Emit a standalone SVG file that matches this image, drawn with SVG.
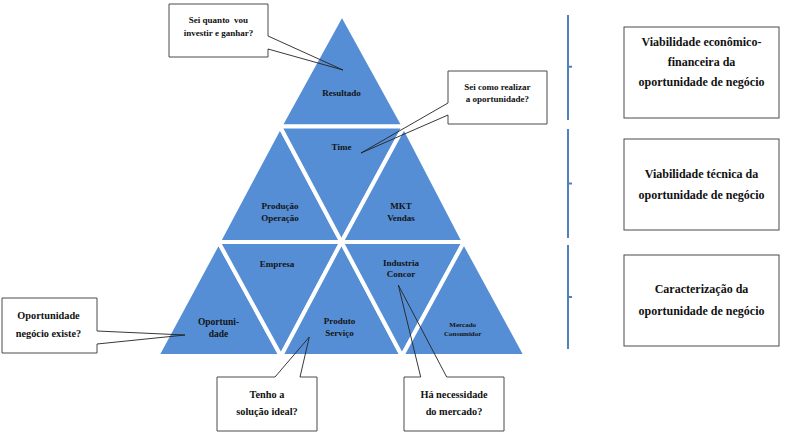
<svg xmlns="http://www.w3.org/2000/svg" width="785" height="434" viewBox="0 0 785 434">
<style>
.tri{fill:#558ed5;stroke:#fff;stroke-width:4;stroke-linejoin:miter}
.tl{font-family:'Liberation Serif','DejaVu Serif',serif;font-weight:bold;fill:#141414;text-anchor:middle}
.bx{fill:#fff;stroke:none}
.ol{fill:none;stroke:#4a4a4a;stroke-width:1}
.cn{fill:none;stroke:#222;stroke-width:0.9}
.ct{font-family:'Liberation Serif','DejaVu Serif',serif;font-weight:bold;fill:#111;text-anchor:middle}
.br{fill:none;stroke:#4f81bd;stroke-width:2}
.rb{fill:#fff;stroke:#4a4a4a;stroke-width:1}
</style>
<rect width="785" height="434" fill="#fff"/>
<g id="pyramid">
<g id="resultado"><polygon class="tri" points="342,14 280,126.5 404,126.5"/><text class="tl" x="341.5" y="96" font-size="9">Resultado</text></g>
<g id="producao"><polygon class="tri" points="280,126.5 218.5,242 341.5,242"/><text class="tl" x="280" y="209" font-size="9">Produção</text><text class="tl" x="280" y="220.5" font-size="9">Operação</text></g>
<g id="time"><polygon class="tri" points="280,126.5 404,126.5 341.5,242"/><text class="tl" x="341.5" y="150" font-size="9">Time</text></g>
<g id="mkt"><polygon class="tri" points="404,126.5 341.5,242 464,242"/><text class="tl" x="401" y="209" font-size="9">MKT</text><text class="tl" x="401" y="220.5" font-size="9">Vendas</text></g>
<g id="oportunidade"><polygon class="tri" points="218.5,242 157,356 281,356"/><text class="tl" x="218.5" y="324.5" font-size="9.5">Oportuni-</text><text class="tl" x="218.5" y="336.5" font-size="9.5">dade</text></g>
<g id="empresa"><polygon class="tri" points="218.5,242 341.5,242 281,356"/><text class="tl" x="277" y="266.5" font-size="9">Empresa</text></g>
<g id="produto"><polygon class="tri" points="341.5,242 281,356 402,356"/><text class="tl" x="339.5" y="324" font-size="9">Produto</text><text class="tl" x="339.5" y="336" font-size="9">Serviço</text></g>
<g id="industria"><polygon class="tri" points="341.5,242 464,242 402,356"/><text class="tl" x="401" y="266" font-size="9">Industria</text><text class="tl" x="401" y="277" font-size="9">Concor</text></g>
<g id="mercado"><polygon class="tri" points="464,242 402,356 526,356"/><text class="tl" x="462.7" y="327" font-size="7">Mercado</text><text class="tl" x="462.7" y="336" font-size="7">Consumidor</text></g>
</g>
<g id="brackets">
<path class="br" d="M568,15 V120 M568,66.7 H572"/>
<path class="br" d="M568,129 V238 M568,183.5 H572"/>
<path class="br" d="M568,245 V349 M568,297 H572"/>
</g>
<g id="callout-investir">
<rect class="bx" x="169" y="4" width="99" height="53"/>
<path class="ol" d="M268,49 V57 H169 V4 H268 V36"/>
<text class="ct" x="218.5" y="23" font-size="9" xml:space="preserve">Sei quanto  vou</text>
<text class="ct" x="218.5" y="36" font-size="9">investir e ganhar?</text>
</g>
<g id="callout-realizar">
<rect class="bx" x="448" y="71" width="99" height="53"/>
<path class="ol" d="M448,103 V71 H547 V124 H448 V115"/>
<text class="ct" x="497.3" y="89.5" font-size="9">Sei como realizar</text>
<text class="ct" x="497.3" y="101.5" font-size="9">a oportunidade?</text>
</g>
<g id="callout-existe">
<rect class="bx" x="2" y="298" width="95" height="55"/>
<path class="ol" d="M97,331 V298 H2 V353 H97 V344"/>
<text class="ct" x="48.5" y="318.5" font-size="10.3">Oportunidade</text>
<text class="ct" x="48.5" y="337" font-size="10.3">negócio existe?</text>
</g>
<g id="callout-solucao">
<rect class="bx" x="217" y="377" width="100" height="54"/>
<path class="ol" d="M275,377 H217 V431 H317 V377 H300"/>
<text class="ct" x="267" y="397.5" font-size="10.3">Tenho a</text>
<text class="ct" x="267" y="414.5" font-size="10.3">solução ideal?</text>
</g>
<g id="callout-mercado">
<rect class="bx" x="404" y="377" width="100" height="54"/>
<path class="ol" d="M420.7,377 H404 V431 H504 V377 H446.7"/>
<text class="ct" x="454" y="397.5" font-size="10.3">Há necessidade</text>
<text class="ct" x="454" y="414.5" font-size="10.3">do mercado?</text>
</g>
<g id="connectors">
<path class="cn" d="M268,36 L343,70 L268,49"/>
<path class="cn" d="M448,103 L361,153 L448,115"/>
<path class="cn" d="M97,331 L185,335 L97,344"/>
<path class="cn" d="M275,377 L309.3,337 L300,377"/>
<path class="cn" d="M420.7,377 L398.3,285 L446.7,377"/>
</g>
<g id="box-economica">
<rect class="rb" x="624" y="27" width="155" height="91"/>
<text class="ct" x="701.5" y="45.5" font-size="12">Viabilidade econômico-</text>
<text class="ct" x="701.5" y="65.5" font-size="12">financeira da</text>
<text class="ct" x="701.5" y="85.5" font-size="12">oportunidade de negócio</text>
</g>
<g id="box-tecnica">
<rect class="rb" x="624" y="139" width="155" height="91"/>
<text class="ct" x="701.5" y="177.5" font-size="12">Viabilidade técnica da</text>
<text class="ct" x="701.5" y="198.5" font-size="12">oportunidade de negócio</text>
</g>
<g id="box-caracterizacao">
<rect class="rb" x="624" y="255" width="155" height="91"/>
<text class="ct" x="701.5" y="292.5" font-size="12">Caracterização da</text>
<text class="ct" x="701.5" y="314.5" font-size="12">oportunidade de negócio</text>
</g>
</svg>
